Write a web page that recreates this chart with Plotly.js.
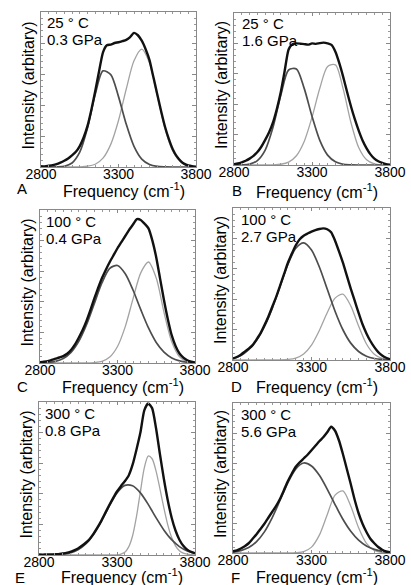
<!DOCTYPE html>
<html><head><meta charset="utf-8">
<script src="https://cdn.plot.ly/plotly-3.0.1.min.js"></script>
<style>html,body{margin:0;padding:0;background:#fff}#chart{width:411px;height:585px}</style>
</head><body><div id="chart"></div>
<script>
// ---------- data ----------
const freq25 = [2800,2825,2850,2875,2900,2925,2950,2975,3000,3025,3050,3075,3100,3125,3150,3175,3200,3225,3250,3275,3300,3325,3350,3375,3400,3425,3450,3475,3500,3525,3550,3575,3600,3625,3650,3675,3700,3725,3750,3775,3800];
const freq50 = [2800,2850,2900,2950,3000,3050,3100,3150,3200,3250,3300,3350,3400,3450,3500,3550,3600,3650,3700,3750,3800];

const panelLetters = ['A','B','C','D','E','F'];
const temperatures = ['25 ° C','25 ° C','100 ° C','100 ° C','300 ° C','300 ° C'];
const pressures = ['0.3 GPa','1.6 GPa','0.4 GPa','2.7 GPa','0.8 GPa','5.6 GPa'];
const xTickValues = [2800, 3300, 3800];

// Panel A
const totalA = [0.005,0.004,0.008,0.012,0.018,0.028,0.040,0.055,0.075,0.098,0.135,0.190,0.265,0.370,0.490,0.620,0.740,0.785,0.790,0.800,0.805,0.812,0.820,0.838,0.865,0.850,0.815,0.760,0.690,0.580,0.470,0.360,0.260,0.180,0.115,0.070,0.040,0.020,0.010,0.005,0.002];
const lowBandA = [0,0,0.001,0.005,0.026,0.096,0.252,0.470,0.620,0.596,0.454,0.276,0.133,0.051,0.016,0.004,0.001,0,0,0,0];
const highBandA = [0,0,0,0,0,0.001,0.005,0.018,0.057,0.146,0.300,0.503,0.685,0.760,0.671,0.461,0.247,0.103,0.033,0.008,0.002];
// Panel B
const totalB = [0.005,0.010,0.018,0.028,0.042,0.060,0.085,0.120,0.165,0.215,0.280,0.370,0.480,0.620,0.760,0.795,0.800,0.798,0.795,0.792,0.800,0.797,0.802,0.805,0.800,0.790,0.745,0.670,0.580,0.480,0.385,0.300,0.225,0.160,0.110,0.070,0.042,0.025,0.014,0.006,0.002];
const lowBandB = [0,0.001,0.006,0.029,0.098,0.248,0.459,0.625,0.632,0.504,0.320,0.162,0.065,0.021,0.005,0.001,0,0,0,0,0];
const highBandB = [0,0,0,0,0,0.001,0.005,0.019,0.061,0.155,0.314,0.505,0.648,0.659,0.499,0.278,0.113,0.034,0.007,0.001,0];
// Panel C
const totalC = [0.005,0.008,0.012,0.020,0.028,0.036,0.045,0.060,0.085,0.120,0.165,0.215,0.275,0.345,0.420,0.490,0.555,0.610,0.660,0.705,0.750,0.790,0.830,0.870,0.905,0.940,0.935,0.910,0.880,0.800,0.690,0.550,0.410,0.285,0.180,0.110,0.062,0.035,0.018,0.008,0.004];
const lowBandC = [0.001,0.004,0.011,0.029,0.069,0.141,0.250,0.388,0.525,0.619,0.637,0.583,0.477,0.349,0.229,0.134,0.071,0.033,0.014,0.005,0.002];
const highBandC = [0,0,0,0,0,0,0,0.003,0.011,0.039,0.108,0.238,0.419,0.589,0.660,0.555,0.331,0.139,0.041,0.009,0.001];
// Panel D
const totalD = [0.010,0.020,0.035,0.055,0.075,0.098,0.135,0.175,0.228,0.285,0.350,0.415,0.490,0.565,0.640,0.700,0.755,0.795,0.818,0.832,0.845,0.855,0.862,0.866,0.860,0.840,0.785,0.715,0.640,0.555,0.470,0.390,0.310,0.235,0.175,0.125,0.085,0.052,0.030,0.015,0.005];
const lowBandD = [0.010,0.030,0.068,0.130,0.220,0.340,0.485,0.630,0.735,0.770,0.723,0.612,0.467,0.321,0.199,0.111,0.056,0.025,0.010,0.004,0.001];
const highBandD = [0,0,0,0,0,0,0.001,0.004,0.013,0.040,0.098,0.194,0.311,0.407,0.433,0.356,0.223,0.105,0.038,0.010,0.002];
// Panel E
const totalE = [0.003,0.002,0.004,0.003,0.005,0.006,0.010,0.014,0.020,0.030,0.042,0.060,0.080,0.105,0.140,0.180,0.225,0.275,0.325,0.372,0.415,0.450,0.482,0.520,0.590,0.690,0.800,0.945,0.990,0.960,0.830,0.660,0.500,0.360,0.245,0.160,0.100,0.060,0.035,0.020,0.012];
const lowBandE = [0,0.001,0.002,0.005,0.014,0.034,0.072,0.134,0.220,0.319,0.406,0.455,0.452,0.406,0.331,0.244,0.164,0.100,0.055,0.027,0.012];
const highBandE = [0,0,0,0,0,0,0,0,0,0,0,0,0,0,0,0,0,0,0,0,0.001,0.006,0.018,0.053,0.126,0.252,0.414,0.569,0.647,0.629,0.550,0.434,0.310,0.199,0.116,0.060,0.028,0.012,0.005,0.002,0.001];
// Panel F
const totalF = [0.012,0.018,0.030,0.045,0.065,0.095,0.125,0.160,0.195,0.235,0.275,0.315,0.362,0.420,0.480,0.530,0.575,0.605,0.630,0.655,0.685,0.715,0.745,0.772,0.805,0.842,0.815,0.750,0.660,0.560,0.460,0.355,0.265,0.195,0.140,0.095,0.065,0.040,0.022,0.010,0.005];
const lowBandF = [0.006,0.016,0.036,0.076,0.141,0.236,0.352,0.470,0.561,0.600,0.580,0.518,0.426,0.323,0.225,0.145,0.086,0.047,0.024,0.011,0.005];
const highBandF = [0,0,0,0,0,0,0,0,0.002,0.009,0.039,0.119,0.255,0.386,0.414,0.313,0.168,0.064,0.017,0.003,0];

// ---------- drawing ----------
const W = 411, H = 585;
const FONT = 'Liberation Sans, Arial, Helvetica, sans-serif';
const totals = [totalA,totalB,totalC,totalD,totalE,totalF];
const lows = [lowBandA,lowBandB,lowBandC,lowBandD,lowBandE,lowBandF];
const highs = [highBandA,highBandB,highBandC,highBandD,highBandE,highBandF];
// plot boxes in pixels: [left, right, top, bottom]
const boxes = [[41,196,12,167],[234,390,13,165],[40,195,210,363],[233,390,208,360],[39,195,402,555],[233,390,403,553]];
const xTitleY = [190,191,386,386,576,576];
const letterPos = [[22,189],[237,191],[22,386],[237,386],[20,577],[235,577]];

const traces = [];
const layout = {
  width: W, height: H, margin: {l:0,r:0,t:0,b:0},
  paper_bgcolor: '#fff', plot_bgcolor: '#fff',
  showlegend: false,
  font: {family: FONT, size: 14, color: '#000'},
  annotations: []
};
const px = v => v / W, py = v => 1 - v / H;

for (let i = 0; i < 6; i++) {
  const n = i + 1, sfx = n === 1 ? '' : String(n);
  const xa = 'x' + sfx, ya = 'y' + sfx;
  const highX = highs[i].length === freq25.length ? freq25 : freq50;
  traces.push({x: highX, y: highs[i], xaxis: xa, yaxis: ya, mode: 'lines',
    line: {color: '#a3a3a3', width: 1.3, shape: 'spline', smoothing: 0.8}, hoverinfo: 'skip'});
  traces.push({x: freq50, y: lows[i], xaxis: xa, yaxis: ya, mode: 'lines',
    line: {color: '#4d4d4d', width: 1.7, shape: 'spline', smoothing: 0.8}, hoverinfo: 'skip'});
  traces.push({x: freq25, y: totals[i], xaxis: xa, yaxis: ya, mode: 'lines',
    line: {color: '#111', width: 2.4, shape: 'spline', smoothing: 0.6}, hoverinfo: 'skip'});

  const [l, r, t, b] = boxes[i];
  layout['xaxis' + sfx] = {
    domain: [px(l), px(r)], anchor: ya, range: [2800, 3800],
    tickmode: 'array', tickvals: xTickValues, ticktext: xTickValues.map(String),
    ticks: 'inside', ticklen: 3, tickcolor: '#888', tickwidth: 1,
    ticklabelstandoff: -6,
    minor: {ticks: 'inside', tickmode: 'linear', tick0: 2800, dtick: 50, ticklen: 2, tickcolor: '#999'},
    showline: true, linecolor: '#888', linewidth: 1, mirror: 'ticks',
    showgrid: false, zeroline: false,
    tickfont: {family: FONT, size: 14, color: '#000'}
  };
  layout['yaxis' + sfx] = {
    domain: [py(b), py(t)], anchor: xa, range: [0, 1],
    tickmode: 'linear', tick0: 0, dtick: 0.2,
    ticks: 'inside', ticklen: 4, tickcolor: '#888',
    minor: {ticks: 'inside', tickmode: 'linear', tick0: 0, dtick: 0.04, ticklen: 2, tickcolor: '#999'},
    showticklabels: false, showline: true, linecolor: '#888', linewidth: 1, mirror: 'ticks',
    showgrid: false, zeroline: false
  };

  const A = layout.annotations;
  const inset = i % 2 === 0 ? 4 : 6;
  A.push({text: temperatures[i], xref: 'paper', yref: 'paper', x: px(l + inset), y: py(t + 11),
    xanchor: 'left', yanchor: 'middle', showarrow: false, font: {size: 15}});
  A.push({text: pressures[i], xref: 'paper', yref: 'paper', x: px(l + inset), y: py(t + 28),
    xanchor: 'left', yanchor: 'middle', showarrow: false, font: {size: 15}});
  A.push({text: 'Intensity (arbitary)', xref: 'paper', yref: 'paper', x: px(l - 13), y: py((t + b) / 2 - 4),
    xanchor: 'center', yanchor: 'middle', textangle: -90, showarrow: false, font: {size: 16}});
  A.push({text: 'Frequency (cm<sup>-1</sup>)', xref: 'paper', yref: 'paper', x: px((l + r) / 2 + 5), y: py(xTitleY[i]),
    xanchor: 'center', yanchor: 'middle', showarrow: false, font: {size: 16}});
  A.push({text: panelLetters[i], xref: 'paper', yref: 'paper', x: px(letterPos[i][0]), y: py(letterPos[i][1]),
    xanchor: 'center', yanchor: 'middle', showarrow: false, font: {size: 15}});
}

Plotly.newPlot('chart', traces, layout, {staticPlot: true, displayModeBar: false});
</script>
</body></html>
